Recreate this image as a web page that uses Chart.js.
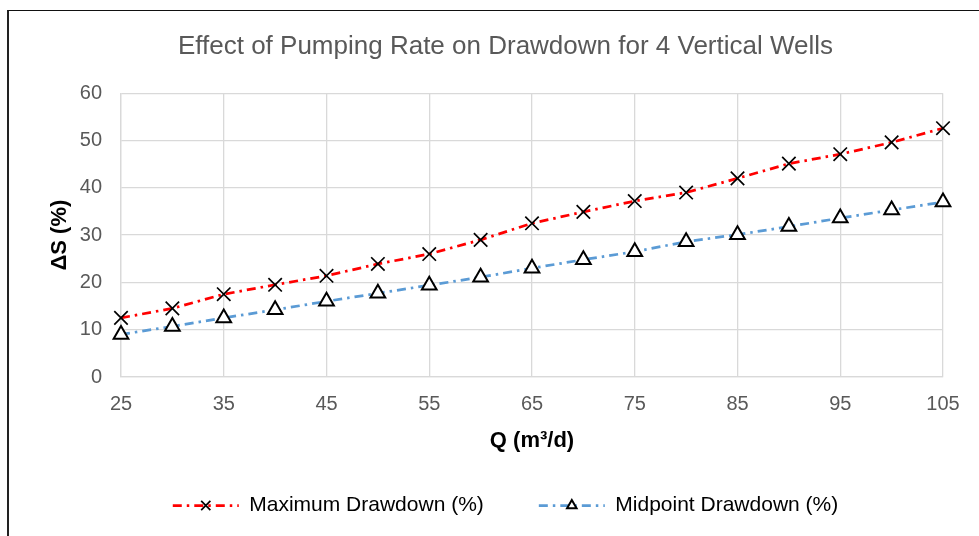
<!DOCTYPE html>
<html>
<head>
<meta charset="utf-8">
<script src="https://cdn.jsdelivr.net/npm/chart.js@4/dist/chart.umd.min.js"></script>
<style>
  html, body { margin: 0; padding: 0; background: #fff; overflow: hidden; }
  #wrap { position: relative; width: 979px; height: 536px; }
  #frame {
    position: absolute; left: 7px; top: 10px; width: 1100px; height: 700px;
    border-top: 1px solid #111; border-left: 2px solid #222;
  }
  #chart { position: absolute; left: 0; top: 0; }
</style>
</head>
<body>
<div id="wrap">
  <div id="frame"></div>
  <canvas id="chart" width="979" height="536"></canvas>
</div>
<script>
// pumping rate Q (m3/d)
const pumpingRates = [25, 30, 35, 40, 45, 50, 55, 60, 65, 70, 75, 80, 85, 90, 95, 100, 105];
// drawdown change (%)
const maxDrawdown = [12.5, 14.5, 17.5, 19.5, 21.4, 23.9, 26.0, 29.0, 32.5, 34.9, 37.2, 39.0, 42.0, 45.1, 47.1, 49.6, 52.6];
const midDrawdown = [9.0, 10.7, 12.5, 14.2, 16.0, 17.7, 19.4, 21.1, 23.0, 24.8, 26.5, 28.6, 30.1, 31.8, 33.6, 35.3, 37.0];
const xTickValues = [25, 35, 45, 55, 65, 75, 85, 95, 105];
const seriesNames = ['Maximum Drawdown (%)', 'Midpoint Drawdown (%)'];

const gridColor = '#d9d9d9';
const textGray = '#595959';
Chart.defaults.font.family = "'Liberation Sans', Arial, sans-serif";

const toPoints = (ys) => pumpingRates.map((q, i) => ({ x: q, y: ys[i] }));

// draws the dash-dot line and marker inside each legend box
const legendMarks = {
  id: 'legendMarks',
  afterDraw(chart) {
    const lg = chart.legend;
    if (!lg || !lg.legendHitBoxes) return;
    const ctx = chart.ctx;
    const boxW = lg.options.labels.boxWidth;
    lg.legendHitBoxes.forEach((box, i) => {
      const ds = chart.data.datasets[i];
      const y = box.top + box.height / 2;
      ctx.save();
      ctx.strokeStyle = ds.borderColor;
      ctx.lineWidth = ds.borderWidth;
      ctx.setLineDash(ds.borderDash);
      ctx.beginPath();
      ctx.moveTo(box.left, y);
      ctx.lineTo(box.left + boxW, y);
      ctx.stroke();
      ctx.setLineDash([]);
      ctx.fillStyle = ds.pointBackgroundColor;
      ctx.strokeStyle = ds.pointBorderColor;
      ctx.lineWidth = ds.pointBorderWidth;
      Chart.helpers.drawPoint(ctx, {
        pointStyle: ds.pointStyle,
        radius: ds.legendRadius,
        borderWidth: ds.pointBorderWidth,
        rotation: 0
      }, box.left + boxW / 2, y);
      ctx.restore();
    });
  }
};

new Chart(document.getElementById('chart'), {
  type: 'line',
  data: {
    datasets: [{
      label: seriesNames[0],
      data: toPoints(maxDrawdown),
      borderColor: '#ff0000',
      borderWidth: 2.75,
      borderDash: [9, 5, 2.5, 5],
      pointStyle: 'crossRot',
      pointRadius: 9.5,
      pointBorderColor: '#000',
      pointBackgroundColor: '#000',
      pointBorderWidth: 1.7,
      legendRadius: 6.5,
      clip: false,
      tension: 0
    }, {
      label: seriesNames[1],
      data: toPoints(midDrawdown),
      borderColor: '#5b9bd5',
      borderWidth: 2.75,
      borderDash: [9, 5, 2.5, 5],
      pointStyle: 'triangle',
      pointRadius: 8.5,
      pointBorderColor: '#000',
      pointBackgroundColor: '#fff',
      pointBorderWidth: 2,
      legendRadius: 5.5,
      clip: false,
      tension: 0
    }]
  },
  options: {
    responsive: false,
    animation: false,
    events: [],
    layout: { padding: { top: 0, left: 68, right: 36, bottom: 10 } },
    scales: {
      x: {
        type: 'linear',
        min: 25,
        max: 105,
        afterBuildTicks: (scale) => { scale.ticks = xTickValues.map(v => ({ value: v })); },
        afterFit: (scale) => { scale.height = 63; },
        grid: { color: gridColor, lineWidth: 1.3, drawTicks: false },
        border: { color: gridColor, width: 1.3 },
        ticks: { color: textGray, font: { size: 20 }, padding: 15, maxRotation: 0 },
        title: {
          display: true,
          text: 'Q (m³/d)',
          color: '#000',
          font: { size: 22, weight: 'bold' },
          padding: { top: 0, bottom: -14 }
        }
      },
      y: {
        min: 0,
        max: 60,
        afterFit: (scale) => { scale.width = 53; },
        grid: { color: gridColor, lineWidth: 1.3, drawTicks: false },
        border: { color: gridColor, width: 1.3 },
        ticks: { stepSize: 10, color: textGray, font: { size: 20 }, padding: 19 },
        title: {
          display: true,
          text: 'ΔS (%)',
          color: '#000',
          font: { size: 22, weight: 'bold' },
          padding: { top: -21, bottom: 0 }
        }
      }
    },
    plugins: {
      title: {
        display: true,
        text: 'Effect of Pumping Rate on Drawdown for 4 Vertical Wells',
        color: textGray,
        font: { size: 26, weight: 'normal' },
        padding: { top: 31, bottom: 31 }
      },
      legend: {
        position: 'bottom',
        labels: {
          color: textGray,
          font: { size: 21 },
          boxWidth: 66,
          boxHeight: 12,
          padding: 55,
          generateLabels: (chart) => chart.data.datasets.map((ds, i) => ({
            text: ds.label,
            fillStyle: 'rgba(0,0,0,0)',
            strokeStyle: 'rgba(0,0,0,0)',
            lineWidth: 0,
            hidden: false,
            datasetIndex: i
          }))
        }
      },
      tooltip: { enabled: false }
    }
  },
  plugins: [legendMarks]
});
</script>
</body>
</html>
